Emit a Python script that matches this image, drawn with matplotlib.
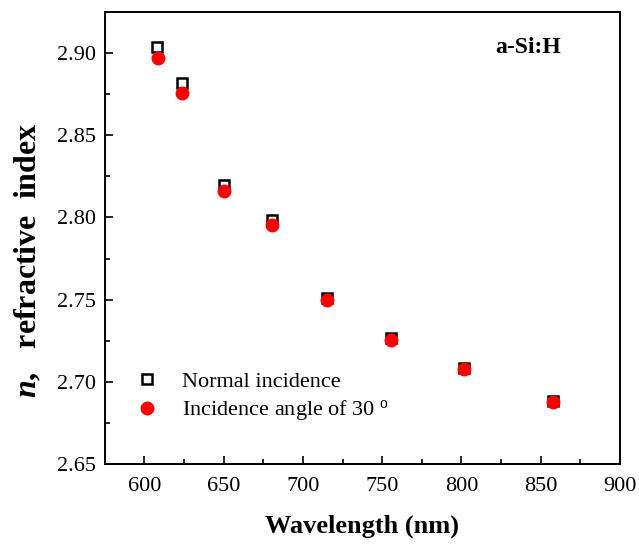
import matplotlib
matplotlib.use("Agg")
import matplotlib.pyplot as plt

plt.rcParams['font.family'] = ['Liberation Serif', 'DejaVu Serif']
plt.rcParams['mathtext.fontset'] = 'custom'
plt.rcParams['mathtext.rm'] = 'Liberation Serif'
plt.rcParams['mathtext.it'] = 'Liberation Serif:italic:bold'
plt.rcParams['mathtext.bf'] = 'Liberation Serif:bold'

wavelength_normal = [608, 623.5, 650, 680.5, 715.5, 755.5, 801.5, 858]
n_normal = [2.9036, 2.8818, 2.8200, 2.7987, 2.7513, 2.7265, 2.7083, 2.6882]
wavelength_30 = [608.5, 624, 650, 680.5, 715.5, 755.5, 801.5, 858]
n_30 = [2.8970, 2.8755, 2.8160, 2.7955, 2.7500, 2.7255, 2.7080, 2.6880]

fig = plt.figure(figsize=(6.39, 5.44), dpi=100)
ax = fig.add_axes([0.164, 0.147, 0.806, 0.831])

ax.plot(wavelength_normal, n_normal, linestyle='none', marker='s', markersize=7,
        markerfacecolor='white', markeredgecolor='black', markeredgewidth=1.8,
        label='Normal incidence', zorder=2)
ax.plot(wavelength_30, n_30, linestyle='none', marker='o', markersize=9,
        markerfacecolor='red', markeredgecolor='red',
        label='Incidence angle of 30 $^{\\mathrm{o}}$', zorder=3)

ax.set_xlim(575, 900)
ax.set_ylim(2.65, 2.925)
ax.set_xticks([600, 650, 700, 750, 800, 850, 900])
ax.set_xticks([625, 675, 725, 775, 825, 875], minor=True)
ax.set_yticks([2.65, 2.70, 2.75, 2.80, 2.85, 2.90])
ax.set_yticks([2.675, 2.725, 2.775, 2.825, 2.875], minor=True)
ax.set_yticklabels(['2.65', '2.70', '2.75', '2.80', '2.85', '2.90'])

ax.tick_params(axis='both', which='major', direction='in', length=6, width=1.2,
               labelsize=16, top=False, right=False)
ax.tick_params(axis='x', which='major', pad=9)
ax.tick_params(axis='y', which='major', pad=6)
ax.tick_params(axis='both', which='minor', direction='in', length=3.5, width=1.2,
               top=False, right=False)
for s in ax.spines.values():
    s.set_linewidth(1.4)

ax.set_xlabel('Wavelength (nm)', fontsize=19, fontweight='bold', labelpad=14)
ax.set_ylabel('$n$,   refractive  index', fontsize=23, fontweight='bold')
ax.yaxis.set_label_coords(-0.12, 0.45)

ax.text(0.822, 0.922, 'a-Si:H', transform=ax.transAxes, fontsize=17,
        fontweight='bold', ha='center', va='center')

ax.legend(loc='upper left', bbox_to_anchor=(0.038, 0.225), frameon=False,
          fontsize=16, handletextpad=1.0, labelspacing=0.3, handlelength=1.2,
          borderaxespad=0)

fig.savefig('out.png', dpi=100)
